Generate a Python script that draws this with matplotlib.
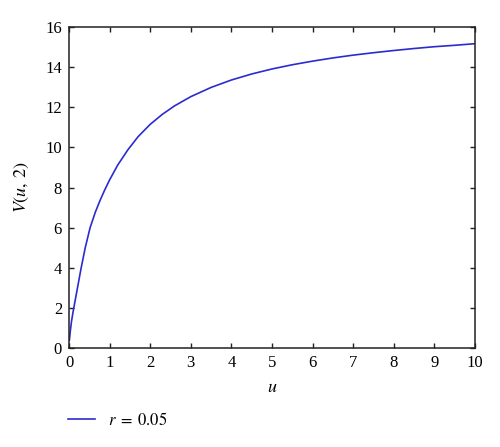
import numpy as np
import matplotlib
matplotlib.use("Agg")
import matplotlib.pyplot as plt

# values, V(u, 2) for r = 0.05
u = [0.01, 0.03, 0.06, 0.1, 0.15, 0.2, 0.25, 0.3, 0.4, 0.52, 0.65, 0.77, 0.88,
     1.0, 1.2, 1.45, 1.7, 2.0, 2.3, 2.6, 3.0, 3.5, 4.0, 4.5, 5.0, 5.5,
     6.0, 6.5, 7.0, 7.5, 8.0, 8.5, 9.0, 9.5, 10.0]
V = [0.4, 0.8, 1.3, 1.8, 2.35, 2.9, 3.45, 4.0, 5.0, 6.0, 6.78, 7.38, 7.88,
     8.38, 9.12, 9.88, 10.53, 11.15, 11.65, 12.07, 12.53, 12.99, 13.36, 13.66, 13.91, 14.12,
     14.3, 14.46, 14.6, 14.72, 14.83, 14.93, 15.02, 15.09, 15.17]
series_label = r"$r\;=\;0.05$"

plt.rcParams['font.family'] = ['Liberation Serif', 'DejaVu Serif']
plt.rcParams['mathtext.fontset'] = 'stix'

fig = plt.figure(figsize=(5.0, 4.47), dpi=100)
ax = fig.add_axes([0.138, 0.2215, 0.812, 0.718])

line, = ax.plot(u, V, color='#2b2bd0', lw=1.2, label=series_label)

ax.set_xlim(0, 10)
ax.set_ylim(0, 16)
ax.set_xticks(np.arange(0, 11, 1))
ax.set_yticks(np.arange(0, 17, 2))
ax.tick_params(direction='in', top=True, right=True, length=3.5, width=1,
               labelsize=12, pad=5, color='#222222')
for s in ax.spines.values():
    s.set_linewidth(1.1)
    s.set_color('#222222')

ax.set_xlabel(r"$u$", fontsize=13, labelpad=6)
ax.set_ylabel(r"$V(u,\,2)$", fontsize=13, labelpad=10)

fig.legend(handles=[line], loc='center left', bbox_to_anchor=(0.105, 0.059),
           frameon=False, fontsize=12, handlelength=1.65, handletextpad=0.75)

fig.savefig("out.png", dpi=100)
